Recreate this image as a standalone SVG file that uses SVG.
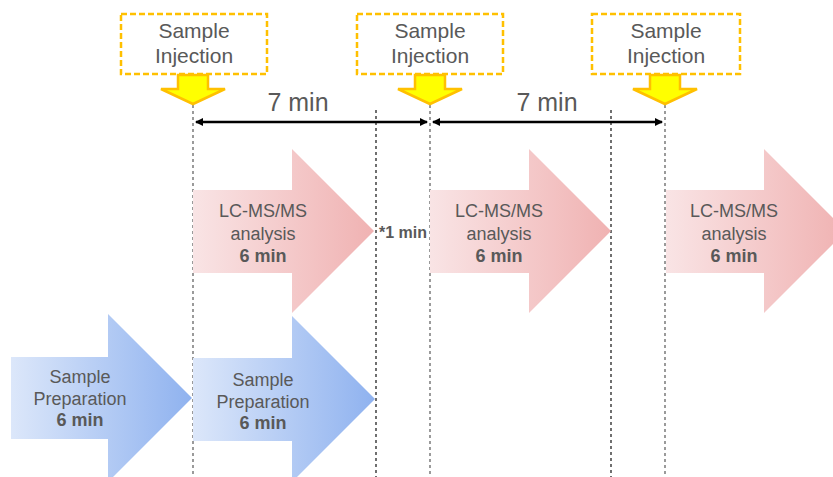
<svg xmlns="http://www.w3.org/2000/svg" width="833" height="477" viewBox="0 0 833 477">
<style>
.t{font-family:"Liberation Sans",Arial,sans-serif;fill:#595959;text-anchor:middle}
.a{font-size:18px}
.i{font-size:21px}
.b{font-weight:bold}
.inj{fill:#fff;stroke:#ffc000;stroke-width:2.5;stroke-dasharray:6,3}
.ya{fill:#ffff00;stroke:#ffc000;stroke-width:2.5;stroke-linejoin:miter}
.dg{stroke:#666;stroke-width:1.3;stroke-dasharray:3,3;fill:none}
.dk{stroke:#111;stroke-width:1.2;stroke-dasharray:3,3;fill:none}
.dim{stroke:#000;stroke-width:2.5;fill:none}
</style>
<defs>
<linearGradient id="pink" x1="0" x2="1" y1="0" y2="0"><stop offset="0" stop-color="#f9e4e5"/><stop offset="1" stop-color="#f0b2b2"/></linearGradient>
<linearGradient id="blue" x1="0" x2="1" y1="0" y2="0"><stop offset="0" stop-color="#dce7fa"/><stop offset="1" stop-color="#8fb2ef"/></linearGradient>
<marker id="ah" markerWidth="8" markerHeight="8" refX="7" refY="4" orient="auto-start-reverse" markerUnits="userSpaceOnUse" viewBox="0 0 8 8"><path d="M0,0 L8,4 L0,8 Z" fill="#000"/></marker>
</defs>
<g id="guides">
<line class="dg" x1="193" y1="105" x2="193" y2="477"/>
<line class="dk" x1="376" y1="110" x2="376" y2="477"/>
<line class="dg" x1="430" y1="105" x2="430" y2="477"/>
<line class="dk" x1="611" y1="110" x2="611" y2="477"/>
<line class="dg" x1="665" y1="105" x2="665" y2="477"/>
</g>
<g id="connectors">
<line class="dim" x1="196" y1="122" x2="427" y2="122" marker-start="url(#ah)" marker-end="url(#ah)"/>
<line class="dim" x1="433" y1="122" x2="662" y2="122" marker-start="url(#ah)" marker-end="url(#ah)"/>
<text class="t" x="298" y="111" font-size="25">7 min</text>
<text class="t" x="547" y="111" font-size="25">7 min</text>
</g>
<g id="inj1">
<rect class="inj" x="121" y="14" width="146" height="60"/>
<text class="t i" x="194" y="38">Sample</text>
<text class="t i" x="194" y="63">Injection</text>
<path class="ya" d="M178,75 L208,75 L208,89 L225,89 L193,104 L161,89 L178,89 Z"/>
</g>
<g id="inj2">
<rect class="inj" x="357" y="14" width="146" height="60"/>
<text class="t i" x="430" y="38">Sample</text>
<text class="t i" x="430" y="63">Injection</text>
<path class="ya" d="M415,75 L445,75 L445,89 L462,89 L430,104 L398,89 L415,89 Z"/>
</g>
<g id="inj3">
<rect class="inj" x="592" y="14" width="148" height="60"/>
<text class="t i" x="666" y="38">Sample</text>
<text class="t i" x="666" y="63">Injection</text>
<path class="ya" d="M650,75 L680,75 L680,89 L697,89 L665,104 L633,89 L650,89 Z"/>
</g>
<g id="lc1">
<path fill="url(#pink)" d="M193,190 L292,190 L292,149 L374,231 L292,313 L292,273 L193,273 Z"/>
<text class="t a" x="263" y="217">LC-MS/MS</text>
<text class="t a" x="263" y="240">analysis</text>
<text class="t a b" x="263" y="262">6 min</text>
</g>
<text class="t b" x="403" y="238" font-size="16">*1 min</text>
<g id="lc2">
<path fill="url(#pink)" d="M430,190 L529,190 L529,149 L611,231 L529,313 L529,273 L430,273 Z"/>
<text class="t a" x="499" y="217">LC-MS/MS</text>
<text class="t a" x="499" y="240">analysis</text>
<text class="t a b" x="499" y="262">6 min</text>
</g>
<g id="lc3">
<path fill="url(#pink)" d="M666,190 L764,190 L764,149 L846,231 L764,313 L764,273 L666,273 Z"/>
<text class="t a" x="734" y="217">LC-MS/MS</text>
<text class="t a" x="734" y="240">analysis</text>
<text class="t a b" x="734" y="262">6 min</text>
</g>
<g id="prep1">
<path fill="url(#blue)" d="M11,357 L108,357 L108,314 L192,398 L108,482 L108,439 L11,439 Z"/>
<text class="t a" x="80" y="383">Sample</text>
<text class="t a" x="80" y="405">Preparation</text>
<text class="t a b" x="80" y="426">6 min</text>
</g>
<g id="prep2">
<path fill="url(#blue)" d="M193,358 L292,358 L292,316 L375,399 L292,482 L292,441 L193,441 Z"/>
<text class="t a" x="263" y="386">Sample</text>
<text class="t a" x="263" y="408">Preparation</text>
<text class="t a b" x="263" y="429">6 min</text>
</g>
</svg>
